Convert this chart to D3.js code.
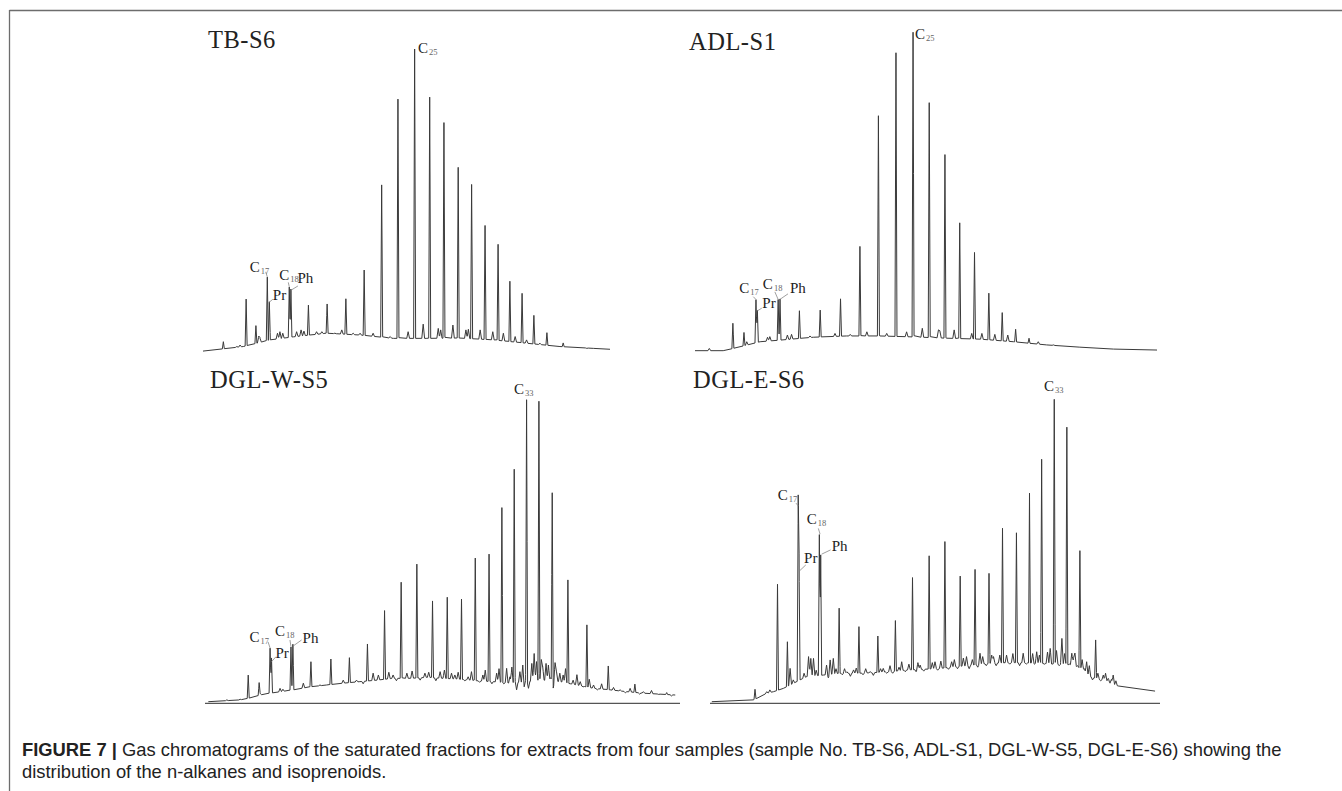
<!DOCTYPE html>
<html>
<head>
<meta charset="utf-8">
<script src="https://cdn.jsdelivr.net/npm/d3@7"></script>
<style>
  body { margin: 0; background: #fff; }
  svg { display: block; }
</style>
</head>
<body>
<svg width="1342" height="791"></svg>
<script>
// sample names
var sampleNames = ["TB-S6", "ADL-S1", "DGL-W-S5", "DGL-E-S6"];

// retention time (0-100 % of run) vs intensity (% of tallest peak)
// unresolved hump under the peaks
var tbHump = [[0,0.3],[9.9,1.8],[16.5,4.0],[22.2,5.0],[30.4,6.2],[38.6,5.6],[46.8,4.5],[55.0,4.5],[63.1,4.6],[71.3,4.0],[79.5,2.9],[87.7,1.8],[95.9,1.2],[100,0.9]];
var adlHump = [[0,0.1],[6.1,0.1],[8.3,0.8],[14.1,2.9],[18.4,3.4],[25.6,4.3],[32.8,4.7],[40.0,4.7],[47.3,4.4],[54.5,4.0],[61.7,3.7],[68.9,2.9],[76.1,1.9],[83.3,1.2],[90.6,0.6],[100,0.3]];
var dglwHump = [[0.7,0.1],[7.4,0.7],[9.1,1.2],[11.6,2.3],[13.7,2.9],[18.6,4.0],[22.1,5.0],[25.6,5.6],[29.1,6.2],[32.6,6.7],[36.2,7.2],[39.6,7.8],[43.2,7.8],[46.7,8.1],[50.2,7.8],[53.7,7.5],[57.2,7.0],[60.7,6.7],[64.2,6.2],[67.7,6.7],[71.2,7.2],[74.7,6.7],[78.3,5.6],[81.8,4.5],[85.3,4.0],[88.8,3.4],[92.3,2.9],[99.0,2.3]];
var dgleHump = [[0.4,0.1],[9.6,0.7],[10.4,1.2],[12.6,2.9],[14.1,3.4],[16.3,4.5],[17.8,5.6],[20.0,7.3],[21.5,8.4],[25.2,8.9],[28.9,9.5],[32.6,9.5],[36.3,9.7],[40.0,10.0],[43.7,10.6],[47.4,10.8],[51.1,11.1],[54.8,11.7],[58.5,12.2],[62.2,12.8],[65.9,13.0],[69.6,13.0],[73.3,12.8],[77.0,12.6],[80.7,12.2],[83.0,10.6],[84.4,8.4],[86.7,7.5],[88.9,6.7],[90.0,5.6],[90.7,5.3],[98.9,3.6]];

// main peaks: [time, apex intensity, label]
var tbPeaks = [[5.0,3.4],[10.6,17.5],[13.0,8.7],[15.8,24.8,"C17"],[16.3,16.6,"Pr"],[21.2,21.5,"C18"],[21.6,20.8,"Ph"],[25.9,15.5],[30.5,15.9],[35.1,17.6],[39.6,27.1],[43.9,55.3],[47.9,83.7],[52.0,100,"C25"],[55.7,84.2],[59.2,76.0],[62.7,61.0],[66.0,55.3],[69.3,41.8],[72.5,35.7],[75.4,23.4],[78.4,19.4],[81.3,12.1],[84.5,6.4],[88.5,3.0]];
var adlPeaks = [[8.2,8.7],[10.6,5.8],[13.2,16.1,"C17"],[13.5,12.7,"Pr"],[18.0,16.1,"C18"],[18.4,16.3,"Ph"],[22.6,12.6],[27.1,12.8],[31.5,16.3],[35.7,32.8],[39.7,73.8],[43.5,93.2],[47.2,100,"C25"],[50.7,77.9],[54.1,61.5],[57.3,40.2],[60.5,30.8],[63.6,18.1],[66.5,12.0],[69.4,6.8],[72.3,4.0]];
var dglwPeaks = [[9.1,8.9],[11.4,6.2],[13.7,17.8,"C17"],[14.0,14.5,"Pr"],[18.1,18.2,"C18"],[18.5,19.1,"Ph"],[22.3,13.3],[26.5,14.2],[30.4,14.6],[34.2,19.1],[37.8,30.1],[41.3,39.6],[44.6,45.4],[47.9,33.4],[51.0,34.5],[54.0,33.9],[56.9,47.6],[59.8,48.7],[62.5,64.3],[65.1,77.0],[67.7,100,"C33"],[70.3,99.5],[73.1,70.0],[76.4,40.2],[80.4,25.4],[84.9,11.9],[90.5,5.9],[97.2,3.1]];
var dglePeaks = [[10.0,4.2],[15.0,38.9],[17.2,19.9],[19.6,64.8,"C17"],[19.8,43.4,"Pr"],[24.3,55.3,"C18"],[24.6,48.6,"Ph"],[28.7,31.0],[33.1,24.9],[37.3,21.8],[41.2,26.9],[45.0,41.1],[48.7,48.3],[52.2,53.0],[55.6,41.6],[58.9,43.8],[62.0,42.5],[65.0,57.4],[68.1,55.9],[71.0,69.0],[73.7,80.2],[76.5,100,"C33"],[79.3,90.8],[82.2,50.0],[85.7,20.5]];

// small peaks and dips of the noisy trace: [time, intensity]
var tbMinor = [[8.3,1.8],[9.1,2.3],[13.7,5.1],[14.0,4.5],[18.3,6.2],[18.9,6.7],[19.6,6.2],[23.0,6.7],[24.1,7.3],[24.8,6.9],[27.9,6.7],[29.2,6.7],[32.4,6.2],[34.1,7.3],[36.9,6.2],[38.6,6.2],[41.8,6.2],[46.0,5.1],[50.4,6.7],[54.1,9.2],[57.8,7.8],[58.4,7.3],[61.4,8.9],[64.6,7.3],[65.2,7.5],[68.1,7.3],[71.2,6.7],[73.8,6.2],[76.7,5.1],[79.5,4.0],[82.8,2.9],[94.3,1.2]];
var adlMinor = [[3.1,0.8],[11.2,2.9],[15.7,4.3],[16.2,4.5],[20.0,5.0],[20.9,5.2],[24.9,4.7],[30.3,5.5],[33.6,5.2],[37.2,6.0],[41.5,5.5],[45.8,6.0],[49.2,7.1],[52.7,6.6],[53.0,6.3],[56.1,6.6],[59.9,5.5],[62.1,5.5],[64.9,5.2],[67.7,5.0],[74.3,2.9],[77.6,1.9]];
var dglwMinor = [[4.6,0.7],[7.4,0.9],[11.6,2.9],[15.8,4.5],[16.4,4.2],[20.7,6.2],[24.2,5.6],[29.1,7.2],[31.9,7.2],[33.3,6.0],[35.4,9.5],[36.5,8.9],[38.7,9.8],[39.6,8.9],[40.3,7.0],[42.5,9.5],[43.6,10.2],[45.3,7.2],[46.3,9.5],[47.1,9.8],[48.6,7.0],[49.5,10.0],[50.4,10.5],[51.9,9.5],[52.6,8.9],[53.3,9.8],[54.7,7.0],[55.4,8.3],[56.1,10.0],[57.8,6.5],[58.5,8.9],[59.0,10.5],[60.4,6.0],[61.4,9.5],[61.9,11.0],[62.9,6.0],[63.5,11.1],[64.2,8.3],[64.6,11.5],[65.6,4.0],[66.3,10.0],[66.9,12.2],[67.2,5.0],[68.1,4.5],[68.8,12.7],[69.3,16.0],[69.8,13.3],[70.8,14.0],[71.1,11.6],[71.8,12.7],[72.3,12.2],[72.7,8.0],[73.3,4.5],[73.7,13.0],[74.0,10.0],[74.7,9.5],[75.4,8.9],[75.9,11.0],[76.9,6.0],[77.5,7.2],[78.3,9.0],[79.0,6.7],[79.6,5.0],[80.9,7.5],[81.8,5.6],[82.6,4.0],[83.5,6.0],[86.0,4.8],[87.4,4.0],[88.5,3.0],[89.5,4.5],[91.5,2.6],[92.3,3.4],[94.0,3.8],[95.5,2.5],[98.2,2.0]];
var dgleMinor = [[12.6,3.4],[13.3,4.0],[17.8,11.1],[18.5,7.3],[20.9,9.5],[21.9,15.0],[22.4,14.4],[23.0,14.4],[23.6,10.5],[25.9,12.2],[26.3,8.0],[26.7,13.9],[27.4,14.4],[28.0,11.0],[29.4,9.0],[29.9,11.0],[30.4,10.0],[31.2,8.5],[31.9,10.6],[32.5,11.2],[34.0,9.0],[34.6,11.0],[35.6,10.0],[36.3,8.8],[37.9,11.0],[38.5,11.1],[39.3,9.5],[40.0,12.0],[40.6,9.5],[42.0,11.5],[42.6,13.3],[43.4,10.0],[44.2,12.5],[45.8,10.0],[46.2,13.0],[46.7,12.2],[47.5,10.2],[49.4,13.0],[50.0,13.3],[50.6,10.5],[51.3,13.5],[53.0,10.8],[53.7,13.3],[54.3,14.0],[55.0,11.0],[56.3,14.5],[57.0,15.0],[57.6,11.0],[58.3,14.0],[59.5,11.5],[60.0,16.1],[60.6,15.0],[61.4,12.0],[62.6,15.5],[63.0,15.0],[63.6,12.0],[64.4,15.5],[65.9,15.5],[66.6,12.5],[67.3,16.0],[68.8,12.0],[69.6,16.1],[70.3,12.5],[71.7,16.0],[72.1,12.5],[72.6,16.6],[73.2,15.5],[74.3,12.5],[75.0,16.5],[75.6,17.7],[76.0,12.5],[77.0,17.0],[77.6,12.0],[78.2,21.0],[78.8,16.0],[79.9,12.5],[80.4,16.1],[80.8,14.5],[81.1,16.1],[81.7,12.0],[82.7,14.0],[83.2,11.0],[83.7,13.3],[84.3,12.0],[85.0,7.3],[86.2,9.5],[86.8,7.0],[87.4,8.9],[87.9,9.5],[88.5,7.8],[88.9,6.2],[89.2,7.5],[89.6,8.9],[90.2,7.0]];

var captionBold = "FIGURE 7 |";
var captionLine1 = " Gas chromatograms of the saturated fractions for extracts from four samples (sample No. TB-S6, ADL-S1, DGL-W-S5, DGL-E-S6) showing the";
var captionLine2 = "distribution of the n-alkanes and isoprenoids.";

var svg = d3.select("svg");
var serif = "'Liberation Serif', 'Times New Roman', serif";
var sans = "'Liberation Sans', Arial, Helvetica, sans-serif";

// frame
svg.append("line").attr("x1", 9.5).attr("x2", 1342).attr("y1", 10.5).attr("y2", 10.5)
  .attr("stroke", "#6d6d6d").attr("stroke-width", 1.3);
svg.append("line").attr("x1", 9.5).attr("x2", 9.5).attr("y1", 10).attr("y2", 791)
  .attr("stroke", "#6d6d6d").attr("stroke-width", 1.3);

// layout of each panel (pixel boxes)
var panels = [
  {name: sampleNames[0], hump: tbHump, peaks: tbPeaks, minor: tbMinor, xr: [203, 610], yr: [352, 49], title: [208, 48], axis: false},
  {name: sampleNames[1], hump: adlHump, peaks: adlPeaks, minor: adlMinor, xr: [695, 1157], yr: [351, 31], title: [689, 50], axis: false},
  {name: sampleNames[2], hump: dglwHump, peaks: dglwPeaks, minor: dglwMinor, xr: [205, 680], yr: [702, 398.3], title: [210, 388], axis: true},
  {name: sampleNames[3], hump: dgleHump, peaks: dglePeaks, minor: dgleMinor, xr: [710, 1160], yr: [702, 399.3], title: [693, 388], axis: true}
];

// label placement relative to the apex: text offset and leader segment
var labelPos = [
  {C17: [-17.5, -5, [-1.6, -5, 0, 0]], Pr: [3.5, -1.5, [0, 0.5, 3.5, -2.5]], C18: [-10, -7, [-1, -4.5, 0, 0]], Ph: [6.5, -6, [0, 1.3, 7, -3]], C25: [3.3, 4, null]},
  {C17: [-16.7, -6, [-2.7, -2.8, 0, 0]], Pr: [5, -2, [0, 0.5, 4.4, -2.2]], C18: [-15.3, -10, [-3.3, -7.6, 0, 0]], Ph: [10, -6, [0, 0.5, 8, -5]], C25: [2, 8, null]},
  {C17: [-20.7, -6.3, [-2, -6, 0, 0]], Pr: [4, 0, [0, 3.7, 4.5, -1.3]], C18: [-16, -10.5, [-1, -6.7, 0, 0]], Ph: [9.7, -0.7, [0.3, 2, 8.7, -4]], C33: [-12.7, -4.5, null]},
  {C17: [-20.5, -6, [-2.2, -2.7, 0, 0]], Pr: [5, -8, [0.7, 0, 6.7, -5.7]], C18: [-12.6, -10.5, [-1, -6.2, 0.7, -0.5]], Ph: [11, -4, [0.9, -0.7, 9.9, -5]], C33: [-10.3, -8.6, null]}
];

panels.forEach(function(p, pi) {
  var x = d3.scaleLinear().domain([0, 100]).range(p.xr);
  var y = d3.scaleLinear().domain([0, 100]).range(p.yr);
  // piecewise linear hump
  var base = d3.scaleLinear().domain(p.hump.map(d => d[0])).range(p.hump.map(d => d[1])).clamp(true);

  var spikes = p.peaks.map(d => ({px: x(d[0]), amp: d[1] - base(d[0]), w: 1.0}))
    .concat(p.minor.map(d => ({px: x(d[0]), amp: d[1] - base(d[0]), w: 1.4})));

  var xs = p.hump.map(d => x(d[0]));
  spikes.forEach(s => { xs.push(s.px - s.w, s.px, s.px + s.w); });
  var lo = x(p.hump[0][0]), hi = x(p.hump[p.hump.length - 1][0]);
  xs = Array.from(new Set(xs.filter(v => v >= lo && v <= hi).map(v => Math.round(v * 100) / 100))).sort((a, b) => a - b);

  var pts = xs.map(function(px) {
    var v = base(x.invert(px));
    spikes.forEach(function(s) {
      var k = 1 - Math.abs(px - s.px) / s.w;
      if (k > 0) v += s.amp * k;
    });
    return [px, y(v)];
  });

  var g = svg.append("g");

  if (p.axis) {
    g.append("line").attr("x1", p.xr[0]).attr("x2", p.xr[1]).attr("y1", p.yr[0] + 1.3).attr("y2", p.yr[0] + 1.3)
      .attr("stroke", "#555").attr("stroke-width", 1.2);
  }

  g.append("path").datum(pts)
    .attr("d", d3.line())
    .attr("fill", "none")
    .attr("stroke", "#3a3a3a")
    .attr("stroke-width", 1)
    .attr("stroke-linejoin", "round");

  g.append("text").attr("x", p.title[0]).attr("y", p.title[1])
    .attr("font-family", serif).attr("font-size", 24.5).attr("letter-spacing", 0.5)
    .attr("fill", "#222").text(p.name);

  // peak labels
  p.peaks.filter(d => d[2]).forEach(function(d) {
    var lab = d[2], pos = labelPos[pi][lab];
    var ax = x(d[0]), ay = y(d[1]);
    if (pos[2]) {
      g.append("line")
        .attr("x1", ax + pos[2][0]).attr("y1", ay + pos[2][1])
        .attr("x2", ax + pos[2][2]).attr("y2", ay + pos[2][3])
        .attr("stroke", "#888").attr("stroke-width", 0.8);
    }
    var t = g.append("text").attr("x", ax + pos[0]).attr("y", ay + pos[1])
      .attr("font-family", serif).attr("font-size", 15).attr("fill", "#222");
    if (lab[0] === "C") {
      t.append("tspan").text("C");
      t.append("tspan").attr("font-size", 8.5).attr("dx", 1).attr("dy", 2).attr("fill", "#666").text(lab.slice(1));
    } else {
      t.text(lab);
    }
  });
});

// caption
var cap = svg.append("text").attr("x", 22).attr("y", 755.5)
  .attr("font-family", sans).attr("font-size", 15).attr("fill", "#222");
cap.append("tspan").attr("font-weight", "bold").text(captionBold);
cap.append("tspan").text(captionLine1);
var fs = 15 * 1260 / cap.node().getComputedTextLength();
cap.attr("font-size", fs);
svg.append("text").attr("x", 22).attr("y", 777.5)
  .attr("font-family", sans).attr("font-size", fs).attr("fill", "#222")
  .text(captionLine2);
</script>
</body>
</html>
